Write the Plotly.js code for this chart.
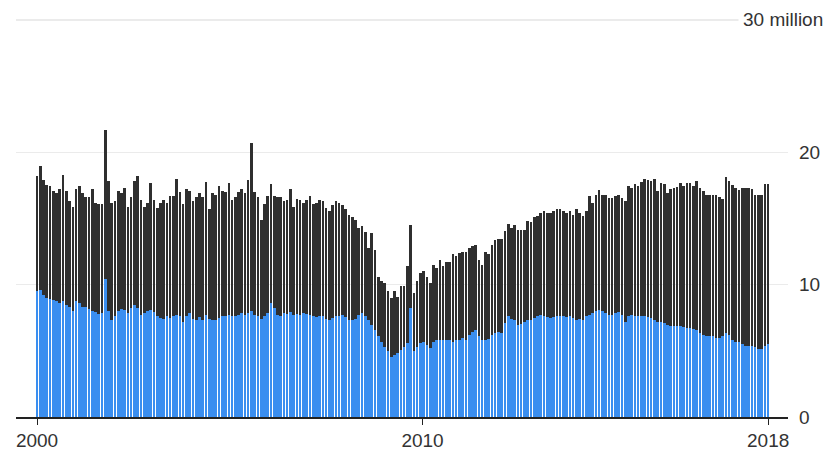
<!DOCTYPE html>
<html>
<head>
<meta charset="utf-8">
<script src="https://cdn.plot.ly/plotly-3.0.1.min.js"></script>
<style>
  html, body { margin: 0; padding: 0; background: #ffffff; }
  #chart { width: 826px; height: 453px; }
</style>
</head>
<body>
<div id="chart"></div>
<script>
// Monthly US light-vehicle sales, seasonally adjusted annual rate (millions)
// First month of the series
const START_YEAR = 2000;
const START_MONTH = 1;

// Total light vehicles (cars + light trucks), one row per year
const totalSales = [
  18.2, 19.0, 17.9, 17.5, 17.45, 17.1, 16.9, 17.2, 18.3, 17.1, 16.3, 15.9,
  17.2, 17.45, 16.9, 16.6, 16.6, 17.2, 16.2, 16.1, 16.1, 21.7, 17.8, 16.2,
  16.3, 17.1, 16.9, 17.3, 15.9, 16.6, 17.8, 18.2, 16.4, 15.9, 16.2, 17.65,
  16.4, 15.8, 16.2, 16.4, 16.2, 16.7, 16.7, 17.95, 17.0, 16.1, 17.25, 17.1,
  16.3, 16.6, 16.9, 16.6, 17.75, 15.7, 16.9, 16.8, 17.45, 17.1, 17.0, 17.7,
  16.4, 16.6, 17.0, 17.25, 16.9, 17.9, 20.7, 17.0, 16.6, 14.9, 16.1, 16.7,
  17.6, 16.7, 16.6, 16.6, 16.3, 16.4, 17.2, 15.9, 16.5, 16.4, 16.2, 16.4,
  16.7, 16.1, 16.2, 16.4, 16.3, 15.8, 15.55, 16.05, 16.3, 16.2, 16.05, 15.7,
  15.3, 15.1, 14.9, 14.3, 14.4, 14.0, 12.8, 13.9, 12.65, 10.6, 10.25, 10.1,
  9.5, 9.0, 9.5, 9.1, 9.9, 9.9, 11.4, 14.5, 9.35, 10.3, 10.85, 11.0,
  10.6, 10.1, 11.5, 11.25, 11.85, 11.4, 11.75, 11.75, 12.3, 12.15, 12.4, 12.5,
  12.5, 12.8, 12.95, 13.0, 11.9, 11.5, 12.45, 12.3, 13.0, 13.35, 13.45, 13.45,
  14.05, 14.6, 14.3, 14.5, 14.15, 14.15, 14.15, 14.8, 14.7, 15.1, 15.2, 15.4,
  15.55, 15.4, 15.4, 15.55, 15.7, 15.7, 15.6, 15.4, 15.55, 15.3, 15.7, 15.4,
  15.2, 15.55, 16.7, 16.2, 16.75, 17.15, 16.75, 16.75, 16.55, 16.55, 16.7, 16.75,
  16.55, 16.3, 17.45, 17.3, 17.6, 17.45, 17.75, 17.95, 17.9, 17.85, 17.95, 17.05,
  17.65, 17.6, 16.9, 17.2, 17.3, 17.4, 17.65, 17.45, 17.65, 17.65, 17.45, 17.85,
  17.3, 17.05, 16.8, 16.8, 16.8, 16.8, 16.65, 16.45, 18.15, 17.85, 17.5, 17.3,
  17.15, 17.3, 17.3, 17.3, 17.25, 16.75, 16.75, 16.8, 17.6, 17.6
];

// Passenger cars, one row per year
const carSales = [
  9.5, 9.6, 9.25, 9.0, 8.9, 8.85, 8.75, 8.65, 8.75, 8.5, 8.35, 8.0,
  8.75, 8.6, 8.35, 8.3, 8.15, 8.0, 7.9, 7.8, 7.85, 10.4, 8.0, 7.35,
  7.6, 8.0, 8.15, 8.1, 7.85, 8.25, 8.5, 8.25, 7.7, 7.85, 8.0, 8.1,
  7.9, 7.6, 7.5, 7.4, 7.6, 7.5, 7.6, 7.7, 7.65, 7.2, 7.6, 7.85,
  7.4, 7.35, 7.55, 7.35, 7.7, 7.4, 7.35, 7.35, 7.5, 7.6, 7.6, 7.7,
  7.6, 7.6, 7.7, 7.85, 7.7, 7.85, 8.0, 7.7, 7.6, 7.4, 7.6, 7.85,
  8.65, 8.2, 7.7, 7.6, 7.85, 7.8, 7.9, 7.7, 7.8, 7.7, 7.85, 7.8,
  7.7, 7.6, 7.55, 7.6, 7.65, 7.4, 7.35, 7.45, 7.6, 7.65, 7.7, 7.55,
  7.35, 7.3, 7.4, 7.7, 7.85, 7.6, 7.35, 6.95, 6.6, 6.1, 5.7, 5.3,
  4.95, 4.55, 4.7, 4.8, 5.05, 5.3, 5.6, 8.2, 4.95, 5.3, 5.6, 5.65,
  5.45, 5.2, 5.7, 5.85, 5.85, 5.8, 5.8, 5.85, 5.7, 5.8, 5.85, 5.95,
  5.85, 6.2, 6.45, 6.6, 6.1, 5.8, 5.8, 5.9, 6.2, 6.35, 6.4, 6.35,
  7.1, 7.6, 7.4, 7.35, 6.95, 7.05, 7.15, 7.35, 7.35, 7.45, 7.6, 7.7,
  7.65, 7.55, 7.45, 7.55, 7.65, 7.65, 7.6, 7.55, 7.6, 7.45, 7.35, 7.4,
  7.35, 7.6, 7.7, 7.85, 8.0, 8.1, 8.0, 7.85, 7.7, 7.7, 7.85, 7.9,
  7.7, 7.2, 7.6, 7.7, 7.65, 7.6, 7.6, 7.6, 7.55, 7.45, 7.35, 7.2,
  7.2, 7.1, 6.95, 6.9, 6.9, 6.85, 6.85, 6.8, 6.7, 6.7, 6.65, 6.55,
  6.35, 6.2, 6.15, 6.15, 6.1, 5.95, 5.95, 6.1, 6.35, 6.2, 5.85, 5.7,
  5.65, 5.55, 5.4, 5.35, 5.35, 5.3, 5.15, 5.15, 5.35, 5.55
];

// Axis ticks
const xTickDates = ['2000-01-01', '2009-11-20', '2018-10-01'];
const xTickLabels = ['2000', '2010', '2018'];
const yTickValues = [0, 10, 20, 30];
const yTickLabels = ['0', '10', '20', ''];
const yTopLabel = '30 million';

// Month dates for each observation
const months = totalSales.map(function (_, i) {
  const m0 = START_MONTH - 1 + i;
  const y = START_YEAR + Math.floor(m0 / 12);
  const m = (m0 % 12) + 1;
  return y + '-' + (m < 10 ? '0' + m : m) + '-01';
});

const DAY = 86400000;
const barWidth = 24 * DAY;
const FONT = 'Liberation Sans, Arial, Helvetica, sans-serif';

const traces = [
  {
    type: 'bar', name: 'Light trucks', x: months, y: totalSales,
    width: barWidth, marker: { color: '#2f2f2f' }, hoverinfo: 'skip'
  },
  {
    type: 'bar', name: 'Cars', x: months, y: carSales,
    width: barWidth, marker: { color: '#3a8ef0' }, hoverinfo: 'skip'
  }
];

const layout = {
  width: 826, height: 453,
  margin: { l: 16, r: 38, t: 18, b: 36 },
  paper_bgcolor: '#ffffff', plot_bgcolor: '#ffffff',
  barmode: 'overlay',
  bargap: 0,
  showlegend: false,
  font: { family: FONT, size: 19, color: '#333333' },
  xaxis: {
    type: 'date',
    range: ['1999-06-18', '2019-04-05'],
    tickmode: 'array', tickvals: xTickDates, ticktext: xTickLabels,
    ticks: 'outside', ticklen: 6, tickwidth: 1, tickcolor: '#222222',
    showgrid: false, zeroline: false,
    showline: true, linecolor: '#222222', linewidth: 1.5,
    tickfont: { family: FONT, size: 19, color: '#333333' },
    fixedrange: true
  },
  yaxis: {
    side: 'right',
    range: [0, 30.15],
    tickmode: 'array', tickvals: yTickValues, ticktext: yTickLabels,
    ticks: '', showgrid: true, gridcolor: '#ebebeb', gridwidth: 1.5,
    zeroline: false, showline: false,
    ticklabelstandoff: 10,
    tickfont: { family: FONT, size: 19, color: '#333333' },
    fixedrange: true
  },
  annotations: [{
    xref: 'paper', yref: 'y',
    x: (738 - 16) / 772, y: 30,
    xanchor: 'left', yanchor: 'middle',
    text: yTopLabel, showarrow: false,
    bgcolor: '#ffffff', borderpad: 4,
    font: { family: FONT, size: 19, color: '#333333' }
  }]
};

Plotly.newPlot('chart', traces, layout, { displayModeBar: false, staticPlot: true });
</script>
</body>
</html>
